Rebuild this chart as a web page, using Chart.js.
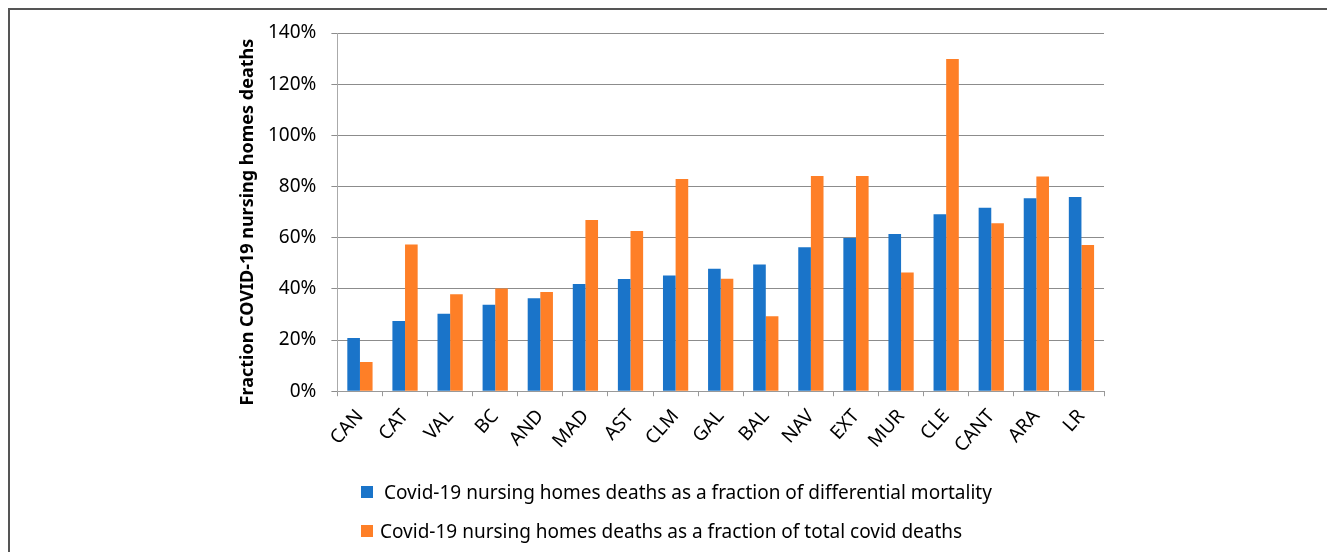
<!DOCTYPE html>
<html>
<head>
<meta charset="utf-8">
<script src="https://cdn.jsdelivr.net/npm/chart.js@4/dist/chart.umd.min.js"></script>
<style>
  body { margin: 0; background: #fff; }
  #wrap { position: relative; width: 1327px; height: 552px; overflow: hidden; }
  #frame { position: absolute; left: 8px; top: 8px; right: -10px; bottom: -10px;
           border-top: 2px solid #555; border-left: 2px solid #555; }
  canvas { position: absolute; left: 0; top: 0; }
  .leg { position: absolute; left: 361px; height: 24px; font-family: "Noto Sans", sans-serif;
         font-size: 19px; color: #000; white-space: nowrap; display: flex; align-items: center; }
  .leg span.box { display: inline-block; width: 12px; height: 12px; }
</style>
</head>
<body>
<div id="wrap">
  <div id="frame"></div>
  <canvas id="chart" width="1327" height="552"></canvas>
  <div id="legend"></div>
</div>
<script>
// regions (Spain)
const regions = ['CAN', 'CAT', 'VAL', 'BC', 'AND', 'MAD', 'AST', 'CLM', 'GAL', 'BAL',
                 'NAV', 'EXT', 'MUR', 'CLE', 'CANT', 'ARA', 'LR'];

// % of differential mortality
const fracDifferential = [20.8, 27.4, 30.3, 33.8, 36.3, 41.9, 43.9, 45.2, 47.9, 49.5,
                          56.3, 59.9, 61.4, 69.2, 71.7, 75.4, 75.9];

// % of total covid deaths
const fracTotalCovid = [11.4, 57.3, 37.9, 40.1, 38.8, 66.9, 62.6, 82.9, 44.0, 29.3,
                        84.1, 84.1, 46.4, 129.8, 65.6, 83.9, 57.1];

const yTicks = [0, 20, 40, 60, 80, 100, 120, 140];

const seriesNames = [
  'Covid-19 nursing homes deaths as a fraction of differential mortality',
  'Covid-19 nursing homes deaths as a fraction of total covid deaths'
];
const colors = ['#1a74c9', '#fe7f27'];
const yTitle = 'Fraction COVID-19 nursing homes deaths';

const tickFont = { family: '"Noto Sans", sans-serif', size: 19 };

// y title drawn by hand: in the original it sits a bit lower than the axis centre
const yTitlePlugin = {
  id: 'yTitle',
  afterDraw(chart) {
    const { ctx, chartArea } = chart;
    ctx.save();
    ctx.font = 'bold 18px "Noto Sans", sans-serif';
    ctx.fillStyle = '#000';
    ctx.textAlign = 'center';
    ctx.textBaseline = 'middle';
    ctx.translate(248, (chartArea.top + chartArea.bottom) / 2 + 10);
    ctx.rotate(-Math.PI / 2);
    ctx.fillText(yTitle, 0, 0);
    ctx.restore();
  }
};

const chart = new Chart(document.getElementById('chart'), {
  type: 'bar',
  data: {
    labels: regions,
    datasets: [
      { label: seriesNames[0], data: fracDifferential, backgroundColor: colors[0] },
      { label: seriesNames[1], data: fracTotalCovid, backgroundColor: colors[1] }
    ]
  },
  options: {
    responsive: false,
    animation: false,
    layout: { padding: { left: 253, right: 223, top: 33, bottom: 86 } },
    datasets: { bar: { barPercentage: 1, categoryPercentage: 0.56 } },
    plugins: {
      legend: { display: false },
      tooltip: { enabled: false }
    },
    scales: {
      x: {
        grid: { drawOnChartArea: false, drawTicks: true, tickLength: 5, color: '#999' },
        border: { color: '#999', width: 1 },
        ticks: { font: tickFont, color: '#000', minRotation: 48, maxRotation: 48, padding: 9 }
      },
      y: {
        min: 0,
        max: 140,
        afterBuildTicks: axis => { axis.ticks = yTicks.map(v => ({ value: v })); },
        grid: { color: '#8c8c8c', tickLength: 6, lineWidth: 1 },
        border: { color: '#aaa', width: 1 },
        ticks: { font: tickFont, color: '#000', padding: 15, callback: v => v + '%' }
      }
    }
  },
  plugins: [yTitlePlugin]
});

// legend below the plot, stacked
const legendTops = [480, 519];
const legendGaps = [11, 7];
const legend = document.getElementById('legend');
chart.data.datasets.forEach((ds, i) => {
  const row = document.createElement('div');
  row.className = 'leg';
  row.style.top = legendTops[i] + 'px';
  row.innerHTML = '<span class="box" style="background:' + ds.backgroundColor +
                  ';margin-right:' + legendGaps[i] + 'px"></span>' + ds.label;
  legend.appendChild(row);
});
</script>
</body>
</html>
